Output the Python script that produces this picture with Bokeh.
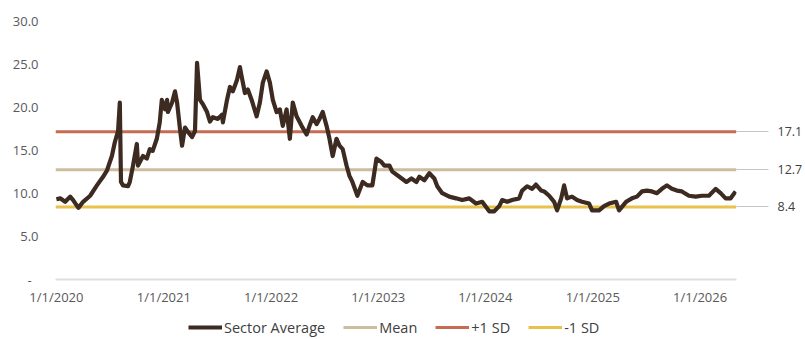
import numpy as np
from bokeh.plotting import figure
from bokeh.layouts import column
from bokeh.models import (FixedTicker, LinearAxis, Legend, LegendItem, CustomJSTickFormatter, Range1d)
from bokeh.embed import file_html
from bokeh.resources import INLINE

# ---------------- data ----------------
dates = [
    "2020-01-01", "2020-01-14", "2020-01-31", "2020-02-17", "2020-02-27", "2020-03-16", "2020-04-01",
    "2020-04-25", "2020-05-18", "2020-06-08", "2020-06-21", "2020-07-08", "2020-07-18", "2020-07-29",
    "2020-08-04", "2020-08-08", "2020-08-15", "2020-09-01", "2020-09-07", "2020-09-18", "2020-10-01",
    "2020-10-05", "2020-10-22", "2020-11-04", "2020-11-14", "2020-11-24", "2020-12-08", "2020-12-18",
    "2020-12-25", "2021-01-05", "2021-01-12", "2021-01-15", "2021-01-29", "2021-02-08", "2021-02-15",
    "2021-02-25", "2021-03-04", "2021-03-14", "2021-03-24", "2021-04-07", "2021-04-17", "2021-04-24",
    "2021-05-04", "2021-05-14", "2021-05-28", "2021-06-07", "2021-06-17", "2021-07-04", "2021-07-18",
    "2021-07-21", "2021-08-04", "2021-08-14", "2021-08-24", "2021-09-07", "2021-09-17", "2021-09-23",
    "2021-10-04", "2021-10-14", "2021-10-27", "2021-11-13", "2021-11-24", "2021-12-04", "2021-12-17",
    "2021-12-28", "2022-01-07", "2022-01-20", "2022-01-31", "2022-02-10", "2022-02-23", "2022-03-06",
    "2022-03-16", "2022-03-29", "2022-04-15", "2022-05-02", "2022-05-12", "2022-05-23", "2022-06-05",
    "2022-06-15", "2022-06-26", "2022-07-09", "2022-07-19", "2022-07-30", "2022-08-12", "2022-08-22",
    "2022-09-02", "2022-09-15", "2022-09-25", "2022-10-05", "2022-10-22", "2022-11-09", "2022-11-25",
    "2022-12-12", "2022-12-26", "2023-01-12", "2023-01-22", "2023-02-08", "2023-02-18", "2023-03-14",
    "2023-04-07", "2023-04-24", "2023-05-11", "2023-05-21", "2023-06-07", "2023-06-24", "2023-07-11",
    "2023-07-21", "2023-08-07", "2023-08-31", "2023-09-23", "2023-10-14", "2023-11-07", "2023-11-30",
    "2023-12-21", "2024-01-14", "2024-01-31", "2024-02-17", "2024-02-27", "2024-03-15", "2024-04-01",
    "2024-04-25", "2024-05-05", "2024-05-22", "2024-06-08", "2024-06-21", "2024-07-09", "2024-07-19",
    "2024-08-05", "2024-08-22", "2024-09-01", "2024-09-15", "2024-09-25", "2024-10-05", "2024-10-22",
    "2024-11-08", "2024-11-25", "2024-12-19", "2024-12-29", "2025-01-22", "2025-02-08", "2025-02-25",
    "2025-03-21", "2025-03-31", "2025-04-24", "2025-05-14", "2025-05-31", "2025-06-17", "2025-07-04",
    "2025-07-21", "2025-08-07", "2025-08-24", "2025-09-10", "2025-09-27", "2025-10-14", "2025-10-31",
    "2025-11-24", "2025-12-17", "2026-01-07", "2026-01-31", "2026-02-23", "2026-03-12", "2026-03-29",
    "2026-04-15", "2026-05-02",
]
sector_avg = [
    9.3, 9.4, 9.0, 9.6, 9.2, 8.3, 9.0,
    9.7, 10.9, 11.9, 12.6, 14.3, 15.9, 17.2,
    20.5, 11.3, 10.9, 10.8, 11.3, 13.2, 15.7,
    13.2, 14.3, 14.0, 15.1, 14.9, 16.3, 18.2,
    20.8, 19.7, 20.8, 19.4, 20.5, 21.8, 20.5,
    17.4, 15.5, 17.6, 17.1, 16.5, 17.2, 25.1,
    20.8, 20.3, 19.4, 18.3, 18.8, 18.6, 19.1,
    18.2, 20.8, 22.3, 21.8, 23.1, 24.6, 23.5,
    21.6, 22.0, 20.8, 18.9, 20.5, 22.8, 24.1,
    22.8, 20.8, 19.4, 19.7, 17.8, 19.7, 16.3,
    20.5, 18.9, 17.8, 16.8, 17.8, 18.8, 18.0,
    18.6, 19.4, 17.8, 16.3, 14.3, 16.3, 15.5,
    15.1, 13.2, 12.0, 11.3, 9.7, 11.3, 10.9,
    10.9, 14.0, 13.6, 13.2, 13.2, 12.5, 11.9,
    11.3, 11.7, 11.3, 11.9, 11.5, 12.3, 11.7,
    10.8, 10.0, 9.6, 9.4, 9.2, 9.4, 8.8,
    9.0, 7.9, 7.9, 8.5, 9.2, 9.0, 9.2,
    9.4, 10.3, 10.8, 10.5, 11.0, 10.3, 10.2,
    9.7, 9.0, 8.0, 9.4, 10.9, 9.4, 9.6,
    9.2, 9.0, 8.8, 8.0, 8.0, 8.5, 8.8,
    9.0, 8.0, 9.0, 9.4, 9.6, 10.2, 10.3,
    10.2, 10.0, 10.5, 10.9, 10.5, 10.3, 10.2,
    9.7, 9.6, 9.7, 9.7, 10.5, 10.0, 9.4,
    9.4, 10.2,
]
mean_value = 12.7
plus_sd_value = 17.1
minus_sd_value = 8.4
series_names = ["Sector Average", "Mean", "+1 SD", "-1 SD"]
y_tick_values = [0, 5, 10, 15, 20, 25, 30]
y_tick_labels = ["-\u00a0\u00a0", "5.0", "10.0", "15.0", "20.0", "25.0", "30.0"]
x_tick_dates = ["2020-01-01", "2021-01-01", "2022-01-01", "2023-01-01",
                "2024-01-01", "2025-01-01", "2026-01-01"]

# ---------------- styling ----------------
C_SECTOR = "#3d2b21"
C_MEAN = "#cbbd9e"
C_PLUS = "#c66c52"
C_MINUS = "#e8c24a"
FONT = "Open Sans"
TXT = "#595959"

x = np.array(dates, dtype="datetime64[ms]")
x_start = np.datetime64("2019-12-29", "ms")
x_end = np.datetime64("2026-05-05", "ms")

p = figure(width=805, height=308, x_axis_type="datetime",
           output_backend="svg", toolbar_location=None,
           x_range=Range1d(x_start, x_end), y_range=Range1d(0, 30),
           min_border_left=55, min_border_right=67, min_border_top=20, min_border_bottom=26)
p.outline_line_color = None
p.grid.visible = False
p.background_fill_color = "white"
p.border_fill_color = "white"

span_x = [x_start, x_end]
p.line(span_x, [plus_sd_value] * 2, line_color=C_PLUS, line_width=3)
p.line(span_x, [mean_value] * 2, line_color=C_MEAN, line_width=3)
p.line(span_x, [minus_sd_value] * 2, line_color=C_MINUS, line_width=3)
p.line(x, sector_avg, line_color=C_SECTOR, line_width=4.2, line_join="round")

# x axis
xa = p.xaxis[0]
xa.ticker = FixedTicker(ticks=[float(np.datetime64(d, "ms").astype("int64")) for d in x_tick_dates])
xa.formatter = CustomJSTickFormatter(code="""
const d = new Date(tick);
return (d.getUTCMonth()+1) + '/' + d.getUTCDate() + '/' + d.getUTCFullYear();
""")
xa.axis_line_color = "#dedede"
xa.axis_line_width = 2
xa.major_tick_out = 0
xa.major_tick_in = 0
xa.minor_tick_out = 0
xa.minor_tick_in = 0
xa.major_label_standoff = 8
xa.major_label_text_font = FONT
xa.major_label_text_font_size = "13px"
xa.major_label_text_color = TXT

# left y axis
ya = p.yaxis[0]
ya.ticker = FixedTicker(ticks=y_tick_values)
ya.major_label_overrides = {v: lab for v, lab in zip(y_tick_values, y_tick_labels)}
ya.axis_line_color = None
ya.major_tick_out = 0
ya.major_tick_in = 0
ya.minor_tick_out = 0
ya.minor_tick_in = 0
ya.major_label_standoff = 17
ya.major_label_text_font = FONT
ya.major_label_text_font_size = "13px"
ya.major_label_text_color = TXT

# right axis with stat values
stat_values = [minus_sd_value, mean_value, plus_sd_value]
ra = LinearAxis(ticker=FixedTicker(ticks=stat_values))
ra.major_label_overrides = {v: f"{v:.1f}" for v in stat_values}
ra.axis_line_color = None
ra.major_tick_out = 32
ra.major_tick_in = 0
ra.major_tick_line_color = "#c4c4c4"
ra.major_tick_line_width = 1
ra.minor_tick_out = 0
ra.minor_tick_in = 0
ra.major_label_standoff = 9
ra.major_label_text_font = FONT
ra.major_label_text_font_size = "12.5px"
ra.major_label_text_color = "#404040"
p.add_layout(ra, "right")

# ---------------- legend strip ----------------
lg = figure(width=805, height=31, output_backend="svg", toolbar_location=None,
            x_range=Range1d(0, 1), y_range=Range1d(0, 1),
            x_axis_location=None, y_axis_location=None,
            min_border_left=0, min_border_right=0, min_border_top=0, min_border_bottom=0)
lg.outline_line_color = None
lg.grid.visible = False
legend_colors = [C_SECTOR, C_MEAN, C_PLUS, C_MINUS]
legend_widths = [3.8, 3, 3, 3]
items = []
for name, col, lw in zip(series_names, legend_colors, legend_widths):
    # off-range proxy line so only the legend swatch is visible
    r = lg.line(x=[5, 6], y=[5, 6], line_color=col, line_width=lw)
    items.append(LegendItem(label=name, renderers=[r]))
legend = Legend(items=items, orientation="horizontal", location=(133, 2),
                glyph_width=34, glyph_height=20, label_standoff=2, spacing=18,
                padding=0, margin=0, border_line_color=None, background_fill_alpha=0,
                label_text_font=FONT, label_text_font_size="14.5px", label_text_color="#404040")
lg.add_layout(legend, "center")

layout = column(p, lg, spacing=0)
open("out.html", "w").write(file_html(layout, INLINE))
